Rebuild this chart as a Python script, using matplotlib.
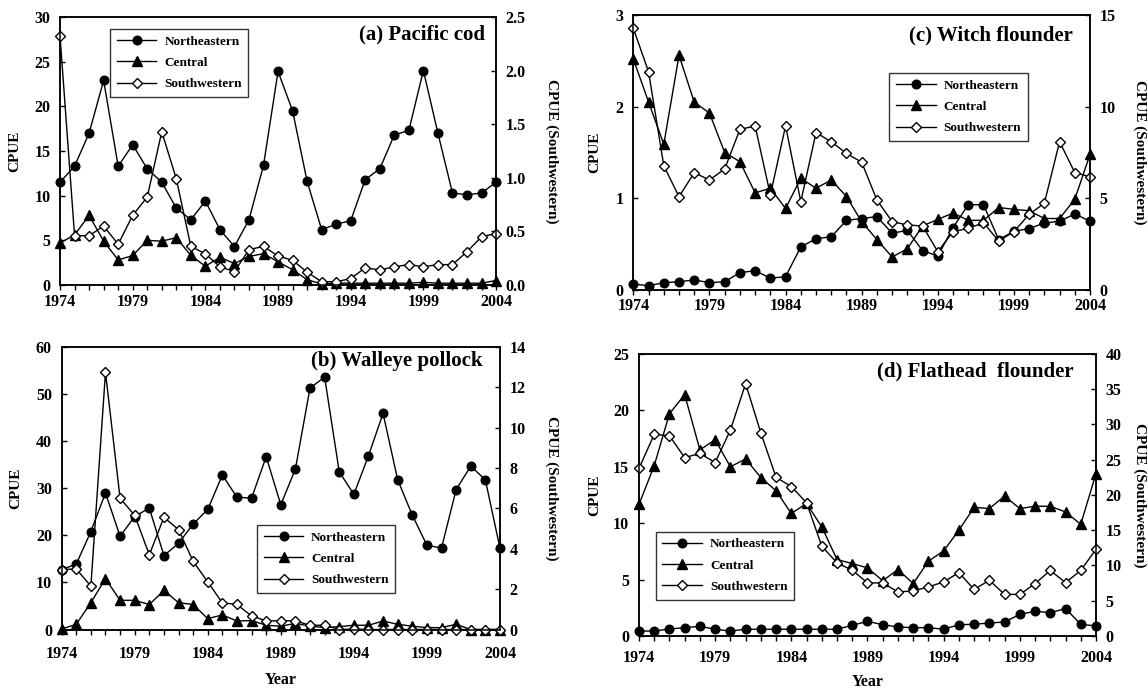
import numpy as np
import matplotlib
matplotlib.use('Agg')
import matplotlib.pyplot as plt
from matplotlib.ticker import MultipleLocator, FormatStrFormatter

plt.rcParams['font.family'] = 'Liberation Serif'
plt.rcParams['font.weight'] = 'bold'
plt.rcParams['axes.labelweight'] = 'bold'

years = np.arange(1974, 2005)
year_ticks = [1974, 1979, 1984, 1989, 1994, 1999, 2004]
labels = ['Northeastern', 'Central', 'Southwestern']

# (a) Pacific cod
ne_cod = [11.5, 13.3, 17.0, 22.9, 13.3, 15.7, 13.0, 11.5, 8.6, 7.3, 9.4, 6.2, 4.3, 7.3, 13.4, 23.9,
          19.5, 11.6, 6.2, 6.8, 7.2, 11.8, 13.0, 16.8, 17.3, 24.0, 17.0, 10.3, 10.1, 10.3, 11.5]
ce_cod = [4.7, 5.6, 7.8, 4.9, 2.8, 3.3, 5.0, 4.9, 5.3, 3.3, 2.1, 3.1, 2.4, 3.2, 3.5, 2.6,
          1.7, 0.6, 0.1, 0.2, 0.2, 0.2, 0.2, 0.2, 0.2, 0.3, 0.2, 0.2, 0.2, 0.2, 0.5]
sw_cod = [2.32, 0.46, 0.46, 0.55, 0.38, 0.65, 0.82, 1.43, 0.99, 0.36, 0.29, 0.17, 0.125, 0.33, 0.36, 0.27,
          0.23, 0.12, 0.03, 0.03, 0.06, 0.16, 0.14, 0.17, 0.19, 0.17, 0.19, 0.19, 0.31, 0.45, 0.48]

# (b) Walleye pollock
ne_pol = [12.7, 13.9, 20.8, 29.0, 19.8, 24.0, 25.8, 15.7, 18.3, 22.4, 25.5, 32.8, 28.1, 27.9, 36.7, 26.5,
          34.1, 51.3, 53.6, 33.5, 28.7, 36.9, 45.9, 31.8, 24.3, 17.9, 17.3, 29.7, 34.7, 31.8, 17.3]
ce_pol = [0.1, 1.1, 5.7, 10.8, 6.2, 6.2, 5.3, 8.3, 5.7, 5.3, 2.3, 3.1, 1.8, 1.9, 0.9, 0.7,
          1.3, 0.7, 0.4, 0.6, 0.9, 0.9, 1.8, 1.1, 0.7, 0.4, 0.4, 1.1, 0.0, 0.0, 0.0]
sw_pol = [2.97, 3.0, 2.15, 12.75, 6.5, 5.66, 3.7, 5.56, 4.95, 3.38, 2.36, 1.32, 1.24, 0.67, 0.43, 0.43,
          0.43, 0.21, 0.21, 0.0, 0.02, 0.0, 0.0, 0.0, 0.0, 0.0, 0.0, 0.0, 0.0, 0.0, 0.0]

# (c) Witch flounder
ne_wit = [0.065, 0.047, 0.08, 0.09, 0.11, 0.08, 0.09, 0.19, 0.21, 0.13, 0.145, 0.47, 0.56, 0.58, 0.76, 0.78,
          0.80, 0.62, 0.65, 0.43, 0.37, 0.68, 0.93, 0.93, 0.55, 0.64, 0.67, 0.73, 0.75, 0.83, 0.75]
ce_wit = [2.52, 2.05, 1.59, 2.56, 2.05, 1.93, 1.5, 1.4, 1.06, 1.11, 0.89, 1.22, 1.11, 1.2, 1.02, 0.745,
          0.55, 0.36, 0.45, 0.70, 0.77, 0.84, 0.76, 0.76, 0.90, 0.88, 0.865, 0.78, 0.78, 0.99, 1.48]
sw_wit = [14.27, 11.9, 6.78, 5.09, 6.4, 6.0, 6.6, 8.76, 8.95, 5.18, 8.95, 4.82, 8.58, 8.09, 7.45, 6.97,
          4.91, 3.73, 3.55, 3.49, 2.09, 3.18, 3.36, 3.67, 2.67, 3.18, 4.13, 4.73, 8.09, 6.4, 6.18]

# (d) Flathead flounder
ne_fla = [0.44, 0.44, 0.62, 0.74, 0.86, 0.6, 0.44, 0.6, 0.6, 0.6, 0.6, 0.6, 0.6, 0.6, 0.95, 1.3,
          1.0, 0.8, 0.74, 0.74, 0.6, 1.0, 1.04, 1.15, 1.24, 1.92, 2.19, 2.07, 2.43, 1.04, 0.89]
ce_fla = [11.66, 15.1, 19.7, 21.4, 16.5, 17.4, 15.0, 15.7, 14.05, 12.87, 10.86, 11.75, 9.67, 6.78, 6.42, 6.04,
          4.9, 5.89, 4.65, 6.63, 7.55, 9.38, 11.4, 11.3, 12.4, 11.3, 11.5, 11.5, 11.0, 9.9, 14.4]
sw_fla = [23.76, 28.6, 28.4, 25.3, 25.9, 24.6, 29.2, 35.8, 28.8, 22.5, 21.2, 18.9, 12.74, 10.37, 9.33, 7.53,
          7.53, 6.25, 6.39, 6.96, 7.67, 9.0, 6.6, 7.9, 5.9, 5.9, 7.43, 9.3, 7.57, 9.3, 12.3]

fig = plt.figure(figsize=(11.48, 6.91), dpi=100)


def panel(rect, ne, ce, sw, ylim, ystep, y2lim, y2step, y2fmt, title, title_xy,
          leg_xy, xpad, lab_x, lab2_x, xlab_y=None):
    ax = fig.add_axes(rect)
    ax2 = ax.twinx()
    kw = dict(color='black', lw=1.0, clip_on=False)
    h1, = ax.plot(years, ne, marker='o', ms=6.2, mfc='black', mec='black', **kw)
    h2, = ax.plot(years, ce, marker='^', ms=7.2, mfc='black', mec='black', **kw)
    h3, = ax2.plot(years, sw, marker='D', ms=5.2, mfc='white', mec='black', mew=1.0, **kw)

    ax.set_xlim(1974, 2004)
    ax.set_ylim(*ylim)
    ax2.set_ylim(*y2lim)
    ax.set_xticks(year_ticks)
    ax.xaxis.set_minor_locator(MultipleLocator(1))
    ax.yaxis.set_major_locator(MultipleLocator(ystep))
    ax2.yaxis.set_major_locator(MultipleLocator(y2step))
    ax2.yaxis.set_major_formatter(FormatStrFormatter(y2fmt))

    ax.tick_params(axis='x', which='both', direction='out', length=3.6, width=1,
                   pad=xpad, labelsize=11.5)
    ax.tick_params(axis='y', direction='in', length=3.5, width=1, pad=7, labelsize=11.5)
    ax2.tick_params(axis='y', direction='in', length=3.5, width=1, pad=7, labelsize=11.5)
    for a in (ax, ax2):
        for s in a.spines.values():
            s.set_linewidth(1.1)

    ax.set_ylabel('CPUE', fontsize=11, fontweight='bold')
    ax.yaxis.label.set_va('center')
    ax.yaxis.set_label_coords(lab_x, 0.5)
    ax2.set_ylabel('CPUE (Southwestern)', fontsize=11, fontweight='bold', rotation=270)
    ax2.yaxis.label.set_va('center')
    ax2.yaxis.set_label_coords(lab2_x, 0.5)

    ax.text(title_xy[0], title_xy[1], title, transform=ax.transAxes,
            ha='right', va='center', fontsize=15, fontweight='bold')
    leg = ax.legend([h1, h2, h3], labels, loc='upper left', bbox_to_anchor=leg_xy,
                    borderaxespad=0, fontsize=9.5, handlelength=3.0, numpoints=1,
                    frameon=True, fancybox=False, edgecolor='black',
                    labelspacing=0.68, borderpad=0.5, handletextpad=0.6)
    leg.get_frame().set_linewidth(1.0)
    leg.set_zorder(5)
    if xlab_y is not None:
        ax.set_xlabel('Year', fontsize=11.5, fontweight='bold')
        ax.xaxis.label.set_va('center')
        ax.xaxis.set_label_coords(0.5, xlab_y)
    return ax


panel([0.0523, 0.5876, 0.3798, 0.3878], ne_cod, ce_cod, sw_cod, (0, 30), 5, (0, 2.5), 0.5, '%.1f',
      '(a) Pacific cod', (0.975, 0.933), (0.115, 0.955), 2.6, -0.103, 1.128)
panel([0.0537, 0.0890, 0.3818, 0.4088], ne_pol, ce_pol, sw_pol, (0, 60), 10, (0, 14), 2, '%d',
      '(b) Walleye pollock', (0.96, 0.951), (0.446, 0.370), 8.5, -0.104, 1.118, xlab_y=-0.179)
panel([0.5517, 0.5803, 0.3978, 0.3980], ne_wit, ce_wit, sw_wit, (0, 3), 1, (0, 15), 5, '%d',
      '(c) Witch flounder', (0.963, 0.927), (0.5606, 0.789), 2.4, -0.084, 1.1095)
panel([0.5566, 0.0796, 0.3981, 0.4081], ne_fla, ce_fla, sw_fla, (0, 25), 5, (0, 40), 5, '%d',
      '(d) Flathead  flounder', (0.95, 0.937), (0.037, 0.37), 6.5, -0.096, 1.096, xlab_y=-0.163)

fig.savefig('out.png', dpi=100)
